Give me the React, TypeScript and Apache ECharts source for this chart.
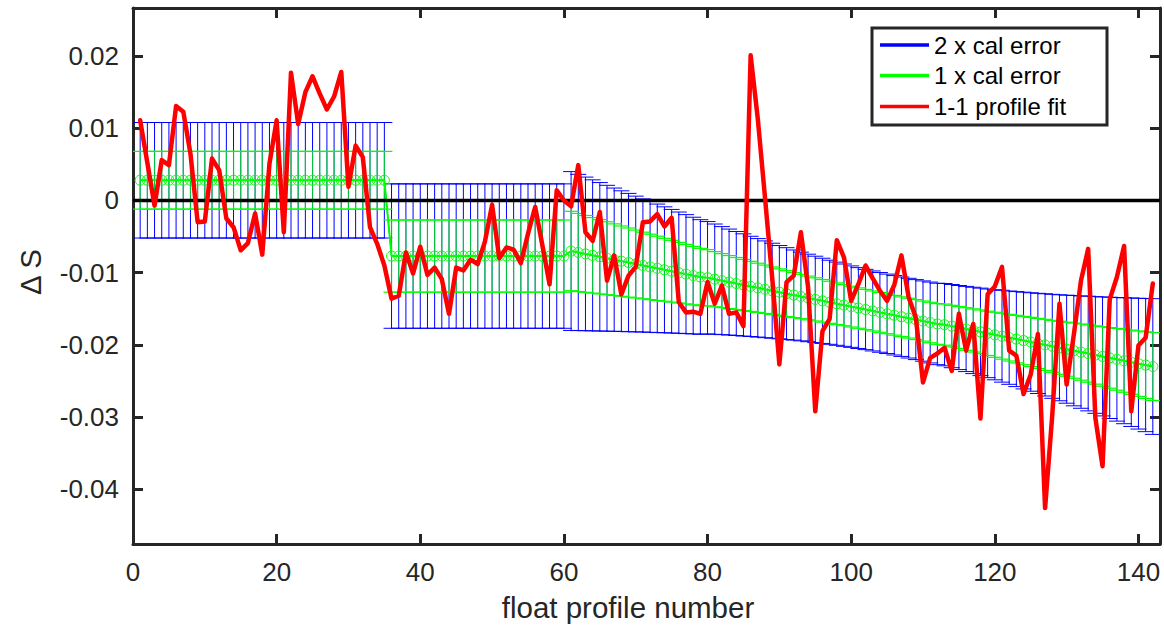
import React, { useEffect, useRef } from "react";
import * as echarts from "echarts";

// 1-1 profile fit (ΔS) for float profiles 1..142
const profileFit: number[] = [
  0.0111, 0.0052, -0.0007, 0.0056, 0.0049, 0.0131, 0.0123, 0.0065, -0.003, -0.0029,
  0.0058, 0.0042, -0.0025, -0.0037, -0.0069, -0.0059, -0.0018, -0.0075, 0.0051, 0.0111,
  -0.0044, 0.0177, 0.0106, 0.015, 0.0172, 0.0148, 0.0126, 0.0144, 0.0178, 0.0019,
  0.0076, 0.006, -0.0037, -0.006, -0.009, -0.0136, -0.0132, -0.0072, -0.0101, -0.0064,
  -0.0103, -0.0093, -0.0109, -0.0157, -0.0093, -0.0097, -0.0082, -0.0088, -0.0057, -0.0006,
  -0.008, -0.0065, -0.0068, -0.0087, -0.0046, -0.0009, -0.0062, -0.0116, 0.0014, 0.0,
  -0.0008, 0.0049, -0.0044, -0.0056, -0.0016, -0.0111, -0.0076, -0.013, -0.0104, -0.0092,
  -0.003, -0.0029, -0.0019, -0.0036, -0.0024, -0.0141, -0.0155, -0.0154, -0.0157, -0.0113,
  -0.0143, -0.0118, -0.0157, -0.0155, -0.0174, 0.0201, 0.0113, 0.0004, -0.0107, -0.0227,
  -0.0113, -0.0104, -0.0044, -0.012, -0.0292, -0.0181, -0.0164, -0.0055, -0.0079, -0.0139,
  -0.0116, -0.009, -0.0108, -0.0125, -0.0139, -0.0117, -0.0076, -0.0134, -0.0162, -0.0252,
  -0.0218, -0.0212, -0.0204, -0.0236, -0.0157, -0.0208, -0.0171, -0.0302, -0.013, -0.0119,
  -0.0092, -0.0208, -0.0215, -0.0268, -0.0241, -0.0185, -0.0426, -0.0297, -0.0143, -0.0255,
  -0.0186, -0.0111, -0.0067, -0.0301, -0.0368, -0.0137, -0.0106, -0.0063, -0.0292, -0.0201,
  -0.019, -0.0115,
];

// calibration fit (centre of the error bars) for profiles 1..142
const calCentre: number[] = [
  0.0028, 0.0028, 0.0028, 0.0028, 0.0028, 0.0028, 0.0028, 0.0028, 0.0028, 0.0028,
  0.0028, 0.0028, 0.0028, 0.0028, 0.0028, 0.0028, 0.0028, 0.0028, 0.0028, 0.0028,
  0.0028, 0.0028, 0.0028, 0.0028, 0.0028, 0.0028, 0.0028, 0.0028, 0.0028, 0.0028,
  0.0028, 0.0028, 0.0028, 0.0028, 0.0028,
  -0.0077, -0.0077, -0.0077, -0.0077, -0.0077, -0.0077, -0.0077, -0.0077, -0.0077, -0.0077,
  -0.0077, -0.0077, -0.0077, -0.0077, -0.0077, -0.0077, -0.0077, -0.0077, -0.0077, -0.0077,
  -0.0077, -0.0077, -0.0077, -0.0077, -0.0077,
  -0.007, -0.0072, -0.0074, -0.0076, -0.0078, -0.008, -0.0082, -0.0084, -0.0086, -0.0088,
  -0.009, -0.0092, -0.0094, -0.0096, -0.0098, -0.01, -0.0102, -0.0104, -0.0106, -0.0107,
  -0.0109, -0.0111, -0.0113, -0.0115, -0.0117, -0.0119, -0.0121, -0.0123, -0.0125, -0.0127,
  -0.0129, -0.0131, -0.0133, -0.0135, -0.0137, -0.0139, -0.0141, -0.0143, -0.0145, -0.0147,
  -0.0149, -0.0151, -0.0153, -0.0155, -0.0157, -0.0159, -0.0161, -0.0163, -0.0165, -0.0167,
  -0.0169, -0.0171, -0.0172, -0.0174, -0.0176, -0.0178, -0.018, -0.0182, -0.0184, -0.0186,
  -0.0188, -0.019, -0.0192, -0.0194, -0.0196, -0.0198, -0.02, -0.0202, -0.0204, -0.0206,
  -0.0208, -0.021, -0.0212, -0.0214, -0.0216, -0.0218, -0.022, -0.0222, -0.0224, -0.0226,
  -0.0228, -0.023,
];

// 1 x calibration error for profiles 1..142
const calError: number[] = [
  0.004, 0.004, 0.004, 0.004, 0.004, 0.004, 0.004, 0.004, 0.004, 0.004,
  0.004, 0.004, 0.004, 0.004, 0.004, 0.004, 0.004, 0.004, 0.004, 0.004,
  0.004, 0.004, 0.004, 0.004, 0.004, 0.004, 0.004, 0.004, 0.004, 0.004,
  0.004, 0.004, 0.004, 0.004, 0.004,
  0.005, 0.005, 0.005, 0.005, 0.005, 0.005, 0.005, 0.005, 0.005, 0.005,
  0.005, 0.005, 0.005, 0.005, 0.005, 0.005, 0.005, 0.005, 0.005, 0.005,
  0.005, 0.005, 0.005, 0.005, 0.005,
  0.0055, 0.00541, 0.00532, 0.00523, 0.00514, 0.00505, 0.00496, 0.00487, 0.00479, 0.0047,
  0.00461, 0.00453, 0.00445, 0.00436, 0.00428, 0.0042, 0.00412, 0.00404, 0.00397, 0.00389,
  0.00382, 0.00374, 0.00367, 0.0036, 0.00354, 0.00347, 0.00341, 0.00335, 0.00329, 0.00323,
  0.00318, 0.00312, 0.00307, 0.00303, 0.00299, 0.00295, 0.00291, 0.00288, 0.00285, 0.00282,
  0.0028, 0.00278, 0.00277, 0.00276, 0.00275, 0.00275, 0.00275, 0.00276, 0.00277, 0.00278,
  0.0028, 0.00282, 0.00285, 0.00288, 0.00291, 0.00295, 0.00299, 0.00303, 0.00307, 0.00312,
  0.00318, 0.00323, 0.00329, 0.00335, 0.00341, 0.00347, 0.00354, 0.0036, 0.00367, 0.00374,
  0.00382, 0.00389, 0.00397, 0.00404, 0.00412, 0.0042, 0.00428, 0.00436, 0.00445, 0.00453,
  0.00461, 0.0047,
];

const xTicks = [0, 20, 40, 60, 80, 100, 120, 140];
const yTicks = [-0.04, -0.03, -0.02, -0.01, 0, 0.01, 0.02];
const legendLabels = ["2 x cal error", "1 x cal error", "1-1 profile fit"];

const FONT = "'Liberation Sans', Arial, Helvetica, sans-serif";
const AX = "#262626";

export default function App() {
  const ref = useRef<HTMLDivElement>(null);

  useEffect(() => {
    if (!ref.current) return;
    const chart = echarts.init(ref.current, null, { renderer: "svg" });

    const profiles = profileFit.map((_, i) => i + 1);
    const fitData = profiles.map((p, i) => [p, profileFit[i]]);
    const centreData = profiles.map((p, i) => [p, calCentre[i]]);
    const blueBars = profiles.map((p, i) => [p, calCentre[i], 2 * calError[i]]);
    const greenBars = profiles.map((p, i) => [p, calCentre[i], calError[i]]);

    const CAP = 8;
    const errRender = (color: string, width: number, vOpacity: number) => (params: any, api: any) => {
      const x = api.value(0);
      const c = api.value(1);
      const e = api.value(2);
      const top = api.coord([x, c + e]);
      const bot = api.coord([x, c - e]);
      return {
        type: "group",
        children: [
          { type: "line", shape: { x1: top[0], y1: top[1], x2: bot[0], y2: bot[1] }, style: { stroke: color, lineWidth: width, opacity: vOpacity } },
          { type: "line", shape: { x1: top[0] - CAP, y1: top[1], x2: top[0] + CAP, y2: top[1] }, style: { stroke: color, lineWidth: width } },
          { type: "line", shape: { x1: bot[0] - CAP, y1: bot[1], x2: bot[0] + CAP, y2: bot[1] }, style: { stroke: color, lineWidth: width } },
        ],
      };
    };

    const axisCommon = {
      type: "value" as const,
      axisLine: { show: true, onZero: false, lineStyle: { color: AX, width: 3 } },
      splitLine: { show: false },
    };

    const gridLeft = 133, gridTop = 8, gridRight = 1160, gridBottom = 544;

    const legendY = [45, 75.5, 106.5];
    const legendColors = ["#0000ff", "#00ff00", "#ff0000"];

    chart.setOption({
      animation: false,
      backgroundColor: "#ffffff",
      grid: { left: gridLeft, top: gridTop, width: gridRight - gridLeft, height: gridBottom - gridTop, containLabel: false },
      xAxis: [
        {
          ...axisCommon,
          position: "bottom",
          min: 0,
          max: 143,
          axisTick: { show: true, inside: true, length: 10, customValues: xTicks, lineStyle: { color: AX, width: 3 } },
          axisLabel: { show: true, customValues: xTicks, fontSize: 26, color: AX, fontFamily: FONT, margin: 15 },
        },
        {
          ...axisCommon,
          position: "top",
          min: 0,
          max: 143,
          axisTick: { show: true, inside: true, length: 10, customValues: xTicks, lineStyle: { color: AX, width: 3 } },
          axisLabel: { show: false },
        },
      ],
      yAxis: [
        {
          ...axisCommon,
          position: "left",
          min: -0.04758,
          max: 0.02666,
          axisTick: { show: true, inside: true, length: 10, customValues: yTicks, lineStyle: { color: AX, width: 3 } },
          axisLabel: {
            show: true,
            customValues: yTicks,
            fontSize: 26,
            color: AX,
            fontFamily: FONT,
            margin: 14,
            formatter: (v: number) => (Math.abs(v) < 1e-12 ? "0" : String(Number(v.toFixed(2)))),
          },
        },
        {
          ...axisCommon,
          position: "right",
          min: -0.04758,
          max: 0.02666,
          axisTick: { show: true, inside: true, length: 10, customValues: yTicks, lineStyle: { color: AX, width: 3 } },
          axisLabel: { show: false },
        },
      ],
      series: [
        {
          name: "2 x cal error",
          type: "custom",
          renderItem: errRender("#0000ff", 1, 1),
          data: blueBars,
          encode: { x: 0, y: [1] },
          z: 1,
          clip: true,
        },
        {
          name: "2 x cal error centre",
          type: "line",
          data: centreData,
          showSymbol: false,
          symbol: "none",
          lineStyle: { color: "#0000ff", width: 1 },
          z: 2,
        },
        {
          name: "1 x cal error",
          type: "custom",
          renderItem: errRender("#00ff00", 1.2, 0.75),
          data: greenBars,
          encode: { x: 0, y: [1] },
          z: 3,
          clip: true,
        },
        {
          name: "1 x cal error centre",
          type: "line",
          data: centreData,
          symbol: "circle",
          symbolSize: 10,
          showSymbol: true,
          itemStyle: { color: "rgba(0,0,0,0)", borderColor: "#00ff00", borderWidth: 1 },
          lineStyle: { color: "#00ff00", width: 2 },
          z: 4,
        },
        {
          name: "zero",
          type: "line",
          data: [[0, 0], [143, 0]],
          symbol: "none",
          lineStyle: { color: "#000000", width: 3.5 },
          z: 5,
        },
        {
          name: "1-1 profile fit",
          type: "line",
          data: fitData,
          symbol: "none",
          lineStyle: { color: "#ff0000", width: 4.5, join: "round", cap: "round" },
          z: 6,
        },
      ],
      graphic: [
        {
          type: "rect",
          shape: { x: 872, y: 28, width: 235, height: 97 },
          style: { fill: "#ffffff", stroke: AX, lineWidth: 3 },
          z: 100,
        },
        ...legendLabels.map((label, i) => ({
          type: "group",
          z: 101,
          children: [
            { type: "line", shape: { x1: 880, y1: legendY[i], x2: 929, y2: legendY[i] }, style: { stroke: legendColors[i], lineWidth: 3.5 }, z: 101 },
            { type: "text", x: 934, y: legendY[i], style: { text: label, fontSize: 24, fontFamily: FONT, fill: "#000000", textVerticalAlign: "middle", textAlign: "left" }, z: 101 },
          ],
        })),
        {
          type: "text",
          x: 628,
          y: 607,
          style: { text: "float profile number", fontSize: 29.5, fontFamily: FONT, fill: AX, textAlign: "center", textVerticalAlign: "middle" },
        },
        {
          type: "text",
          x: 30,
          y: 272,
          rotation: Math.PI / 2,
          style: { text: "Δ S", fontSize: 29.5, fontFamily: FONT, fill: AX, textAlign: "center", textVerticalAlign: "middle" },
        },
      ],
    });

    return () => chart.dispose();
  }, []);

  return <div ref={ref} style={{ position: "fixed", left: 0, top: 0, width: 1164, height: 628 }} />;
}
